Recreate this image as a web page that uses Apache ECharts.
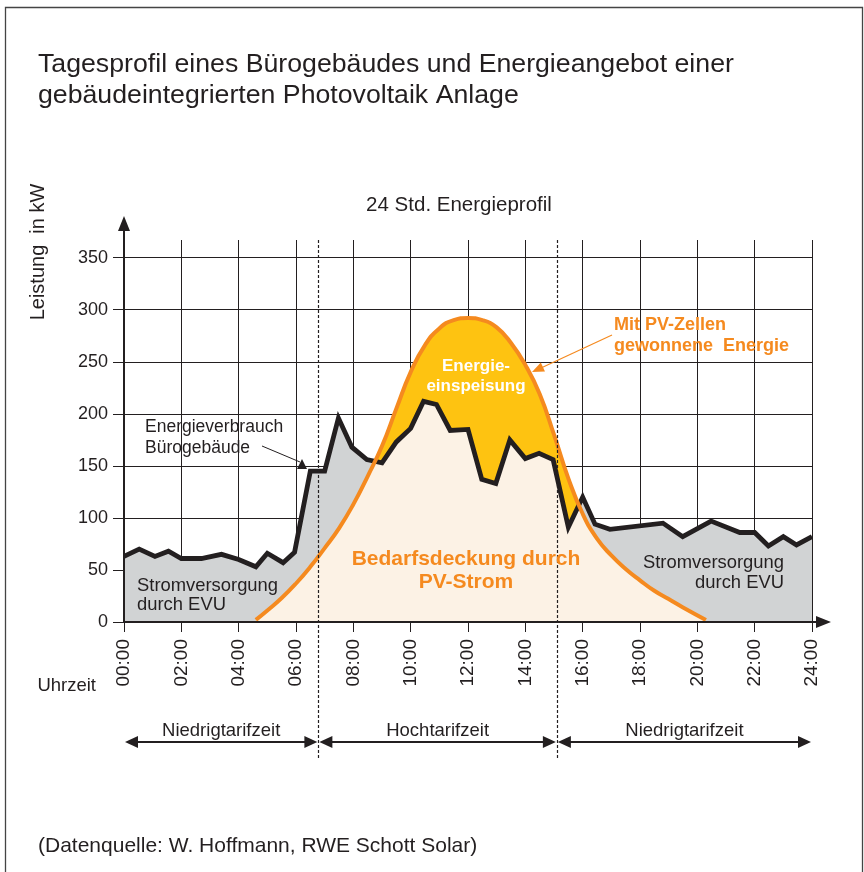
<!DOCTYPE html>
<html>
<head>
<meta charset="utf-8">
<script src="https://cdn.jsdelivr.net/npm/echarts@6/dist/echarts.min.js"></script>
<style>
html,body{margin:0;padding:0;background:#fff;}
#chart{width:864px;height:872px;}
</style>
</head>
<body>
<div id="chart"></div>
<script>
// Energieverbrauch Bürogebäude (Uhrzeit in h, Leistung in kW)
var verbrauchStunden = [0, 0.53, 1.08, 1.55, 2.0, 2.7, 3.4, 4.0, 4.6, 5.0, 5.55, 5.95, 6.5, 7.0, 7.48, 7.95,
  8.47, 9.0, 9.5, 10.0, 10.45, 10.9, 11.38, 12.0, 12.48, 12.97, 13.46, 14.0, 14.48, 14.97, 15.5, 16.0,
  16.43, 16.95, 18.8, 19.49, 20.48, 21.48, 22.0, 22.48, 23.0, 23.46, 24.0];
var verbrauchKW = [63, 70, 63, 68, 61, 61, 65, 60, 53, 66, 57, 67, 145, 145, 196, 168,
  156, 153, 173, 186, 212, 209, 184, 185, 137, 133, 175, 157, 162, 156, 91, 120,
  94, 89, 95, 82, 97, 86, 86, 73, 82, 74, 82];

// Mit PV-Zellen gewonnene Energie
var pvStunden = [4.6, 5.0, 5.5, 6.0, 6.5, 7.0, 7.5, 8.0, 8.5, 9.0, 9.5, 10.0, 10.5, 11.0, 11.5, 12.0,
  12.5, 13.0, 13.5, 14.0, 14.5, 15.0, 15.5, 16.0, 16.5, 17.0, 17.5, 18.0, 18.5, 19.0, 19.5, 20.3];
var pvKW = [2, 11, 23, 37, 53, 71, 90, 113, 140, 169, 205, 240, 266, 282, 290, 292,
  290, 283, 268, 247, 219, 180, 138, 104, 80, 64, 51, 40, 30, 22, 14, 2];

// Achsen
var xTicks = [0, 2, 4, 6, 8, 10, 12, 14, 16, 18, 20, 22, 24];
var yTicks = [0, 50, 100, 150, 200, 250, 300, 350];
var yMax = 367;

// Tarifzeiten
var tarifGrenzen = [0, 6.78, 15.1, 24];
var tarifNamen = ['Niedrigtarifzeit', 'Hochtarifzeit', 'Niedrigtarifzeit'];

var SCHRIFT = '"Liberation Sans", Arial, Helvetica, sans-serif';
var SCHWARZ = '#231f20';
var ORANGE = '#f58a1f';
var PFEIL = 'path://M6,0L12,15L7,15L7,30L5,30L5,15L0,15Z';

function paare(xs, ys) {
  return xs.map(function (x, i) { return [x, ys[i]]; });
}
// lineare Interpolation zwischen zwei Stützstellen
function wert(xs, ys, x) {
  for (var i = 0; i < xs.length - 1; i++) {
    if (x >= xs[i] && x <= xs[i + 1]) {
      var t = (x - xs[i]) / (xs[i + 1] - xs[i]);
      return ys[i] + t * (ys[i + 1] - ys[i]);
    }
  }
  return 0;
}
// Bedarfsdeckung = min(Verbrauch, PV)
function deckungsFlaeche() {
  var a = pvStunden[0], b = pvStunden[pvStunden.length - 1];
  var xs = verbrauchStunden.concat(pvStunden).filter(function (x) { return x >= a && x <= b; });
  xs.sort(function (p, q) { return p - q; });
  xs = xs.filter(function (x, i) { return i === 0 || x !== xs[i - 1]; });
  var out = [], dPrev = null, xPrev = null;
  xs.forEach(function (x) {
    var c = wert(verbrauchStunden, verbrauchKW, x), p = wert(pvStunden, pvKW, x);
    var d = c - p;
    if (dPrev !== null && dPrev * d < 0) {
      var xi = xPrev + (x - xPrev) * dPrev / (dPrev - d);
      out.push([xi, wert(pvStunden, pvKW, xi)]);
    }
    out.push([x, Math.min(c, p)]);
    dPrev = d; xPrev = x;
  });
  return out;
}
function uhr(v) {
  return (v < 10 ? '0' : '') + v + ':00';
}

var chart = echarts.init(document.getElementById('chart'));

var option = {
  animation: false,
  backgroundColor: '#fff',
  grid: { left: 124, right: 52, top: 240, bottom: 250 },
  xAxis: [{
    type: 'value', min: 0, max: 24, interval: 2,
    axisLine: { show: false }, axisTick: { show: false }, axisLabel: { show: false },
    splitLine: { show: true, lineStyle: { color: SCHWARZ, width: 1 } },
    z: 0
  }, {
    type: 'value', min: 0, max: 24, interval: 2, position: 'bottom',
    axisLine: {
      show: true, lineStyle: { color: SCHWARZ, width: 2 },
      symbol: ['none', PFEIL], symbolSize: [12, 30], symbolOffset: [0, 4]
    },
    axisTick: { show: true, length: 10, lineStyle: { color: SCHWARZ, width: 1 } },
    axisLabel: {
      rotate: 90, margin: 17, fontSize: 19, color: SCHWARZ, fontFamily: SCHRIFT,
      formatter: uhr
    },
    splitLine: { show: false },
    z: 10
  }],
  yAxis: [{
    type: 'value', min: 0, max: yMax, interval: 50,
    axisLine: { show: false }, axisTick: { show: false }, axisLabel: { show: false },
    splitLine: { show: true, showMaxLine: false, lineStyle: { color: SCHWARZ, width: 1 } },
    z: 0
  }, {
    type: 'value', min: 0, max: yMax, interval: 50, position: 'left',
    axisLine: {
      show: true, lineStyle: { color: SCHWARZ, width: 2 },
      symbol: ['none', PFEIL], symbolSize: [12, 30], symbolOffset: [0, 9]
    },
    axisTick: { show: true, length: 11, lineStyle: { color: SCHWARZ, width: 1 }, customValues: yTicks },
    axisLabel: {
      margin: 16, fontSize: 18, color: SCHWARZ, fontFamily: SCHRIFT, customValues: yTicks,
      formatter: function (v) { return yTicks.indexOf(v) >= 0 ? String(v) : ''; }
    },
    splitLine: { show: false },
    z: 10
  }],
  series: [{
    // Stromversorgung durch EVU
    type: 'line', data: paare(verbrauchStunden, verbrauchKW), symbol: 'none', z: 1,
    lineStyle: { width: 0 }, areaStyle: { color: '#d1d3d4', opacity: 1 }
  }, {
    // Energieeinspeisung
    type: 'line', data: paare(pvStunden, pvKW), smooth: true, symbol: 'none', z: 2,
    lineStyle: { width: 0 }, areaStyle: { color: '#fec311', opacity: 1 }
  }, {
    // Bedarfsdeckung durch PV-Strom
    type: 'line', data: deckungsFlaeche(), symbol: 'none', z: 3,
    lineStyle: { width: 0 }, areaStyle: { color: '#fcf2e5', opacity: 1 }
  }, {
    type: 'line', data: paare(verbrauchStunden, verbrauchKW), symbol: 'none', z: 4,
    lineStyle: { color: SCHWARZ, width: 4.8, join: 'miter', miterLimit: 4 }
  }, {
    type: 'line', data: paare(pvStunden, pvKW), smooth: true, symbol: 'none', z: 5,
    lineStyle: { color: ORANGE, width: 4 }
  }]
};
chart.setOption(option);

// Beschriftungen und Tarifpfeile
function px(h, v) { return chart.convertToPixel({ seriesIndex: 0 }, [h, v]); }
function txt(x, y, text, size, opts) {
  opts = opts || {};
  return {
    type: 'text', x: x, y: y, rotation: opts.rotation || 0, z: 50,
    style: {
      text: text, fill: opts.fill || SCHWARZ, align: opts.align || 'left', verticalAlign: 'middle',
      font: (opts.bold ? 'bold ' : '') + size + 'px ' + SCHRIFT, lineHeight: opts.lh || size + 2
    }
  };
}
function dreieck(x, y, dir, len, breite, farbe) {
  // Spitze bei (x,y), dir = Richtungswinkel
  var c = Math.cos(dir), s = Math.sin(dir);
  var bx = x - c * len, by = y - s * len;
  return {
    type: 'polygon', z: 50,
    shape: { points: [[x, y], [bx - s * breite / 2, by + c * breite / 2], [bx + s * breite / 2, by - c * breite / 2]] },
    style: { fill: farbe }
  };
}

var g = [];
g.push({ type: 'rect', z: 40, shape: { x: 5.5, y: 7.5, width: 857, height: 900 }, style: { fill: 'none', stroke: '#444', lineWidth: 1.3 } });
g.push(txt(38, 80.5, 'Tagesprofil eines Bürogebäudes und Energieangebot einer\ngebäudeintegrierten Photovoltaik Anlage', 26.7, { lh: 31 }));
g.push(txt(459, 205, '24 Std. Energieprofil', 20.5, { align: 'center' }));
g.push(txt(38, 252, 'Leistung  in kW', 20, { align: 'center', rotation: Math.PI / 2 }));
g.push(txt(96, 686, 'Uhrzeit', 18.5, { align: 'right' }));
g.push(txt(145, 438, 'Energieverbrauch\nBürogebäude', 17.5, { lh: 21 }));
g.push(txt(137, 595, 'Stromversorgung\ndurch EVU', 18.4, { lh: 19 }));
g.push(txt(784, 573, 'Stromversorgung\ndurch EVU', 18.4, { align: 'right', lh: 20 }));
g.push(txt(476, 376, 'Energie-\neinspeisung', 17, { align: 'center', bold: true, fill: '#fff', lh: 20 }));
g.push(txt(466, 570.5, 'Bedarfsdeckung durch\nPV-Strom', 21, { align: 'center', bold: true, fill: ORANGE, lh: 23 }));
g.push(txt(614, 335.5, 'Mit PV-Zellen\ngewonnene  Energie', 18, { bold: true, fill: ORANGE, lh: 21 }));
g.push(txt(38, 846, '(Datenquelle: W. Hoffmann, RWE Schott Solar)', 21));

// Hinweispfeile
g.push({ type: 'line', z: 50, shape: { x1: 262, y1: 446, x2: 300, y2: 462 }, style: { stroke: SCHWARZ, lineWidth: 1 } });
g.push(dreieck(302, 459, -Math.PI / 2, 10, 10, SCHWARZ));
g.push({ type: 'line', z: 50, shape: { x1: 612, y1: 335, x2: 541, y2: 368 }, style: { stroke: ORANGE, lineWidth: 1.2 } });
g.push(dreieck(532, 372, Math.atan2(37, -80), 12, 10, ORANGE));

// Tarifgrenzen (gestrichelt) und Tarifpfeile
var oben = px(0, yMax)[1];
for (var i = 1; i < tarifGrenzen.length - 1; i++) {
  var xg = Math.round(px(tarifGrenzen[i], 0)[0]) + 0.5;
  g.push({ type: 'line', z: 45, shape: { x1: xg, y1: oben, x2: xg, y2: 760 }, style: { stroke: SCHWARZ, lineWidth: 1.2, lineDash: [3, 2] } });
}
for (var k = 0; k < tarifNamen.length; k++) {
  var xa = px(tarifGrenzen[k], 0)[0] + 1, xb = px(tarifGrenzen[k + 1], 0)[0] - 1;
  g.push({ type: 'line', z: 50, shape: { x1: xa + 6, y1: 742, x2: xb - 6, y2: 742 }, style: { stroke: SCHWARZ, lineWidth: 2 } });
  g.push(dreieck(xa, 742, Math.PI, 13, 12, SCHWARZ));
  g.push(dreieck(xb, 742, 0, 13, 12, SCHWARZ));
  g.push(txt((xa + xb) / 2, 731, tarifNamen[k], 18.5, { align: 'center' }));
}
chart.setOption({ graphic: { elements: g } });
</script>
</body>
</html>
